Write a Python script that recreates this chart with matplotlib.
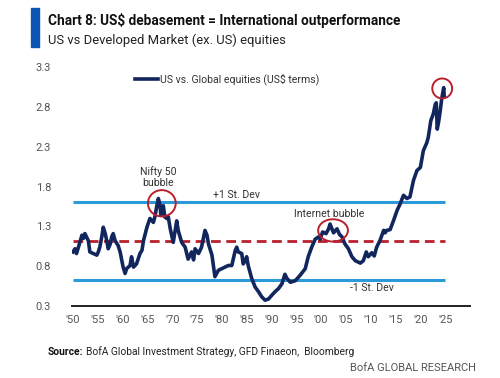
import matplotlib
matplotlib.use("Agg")
import matplotlib.pyplot as plt
from matplotlib import font_manager
from matplotlib.patches import Ellipse, Rectangle

# US vs Global equities relative performance
YEARS = [
    1950.0, 1950.4, 1950.7, 1951.1, 1951.8, 1952.1, 1952.4, 1953.1, 1953.4, 1954.1,
    1954.8, 1955.1, 1955.4, 1955.8, 1956.1, 1956.5, 1956.8, 1957.1, 1957.5, 1957.8,
    1958.1, 1958.5, 1959.1, 1959.5, 1960.1, 1960.5, 1960.8, 1961.5, 1961.8, 1962.2,
    1962.8, 1963.5, 1963.9, 1964.2, 1964.9, 1965.5, 1966.2, 1966.5, 1966.9, 1967.2,
    1967.5, 1967.7, 1968.2, 1968.5, 1968.9, 1969.2, 1969.6, 1970.2, 1970.9, 1971.2,
    1971.9, 1972.6, 1973.2, 1973.9, 1974.3, 1974.6, 1975.3, 1975.9, 1976.6, 1977.0,
    1977.3, 1978.0, 1978.6, 1979.3, 1980.3, 1981.3, 1982.0, 1982.7, 1983.0, 1983.3,
    1984.0, 1984.3, 1984.7, 1985.0, 1985.3, 1986.0, 1986.7, 1987.4, 1988.0, 1988.7,
    1989.4, 1990.1, 1990.7, 1991.4, 1992.1, 1992.7, 1993.1, 1993.8, 1994.8, 1995.8,
    1996.8, 1997.4, 1998.1, 1998.8, 1999.5, 1999.8, 2000.3, 2001.0, 2001.5, 2001.8,
    2002.5, 2003.2, 2003.7, 2004.2, 2004.8, 2005.5, 2006.2, 2006.9, 2007.9, 2008.5,
    2009.1, 2009.5, 2010.2, 2010.7, 2011.2, 2011.9, 2012.6, 2012.9, 2013.2, 2013.9,
    2014.6, 2015.3, 2015.9, 2016.6, 2017.3, 2017.9, 2018.6, 2019.3, 2020.0, 2020.6,
    2021.3, 2021.6, 2022.1, 2022.6, 2023.0, 2023.2, 2023.4, 2023.7, 2024.0, 2024.3,
    2024.7, 2024.8,
]
RATIO = [
    0.98, 1.02, 0.96, 1.04, 1.19, 1.15, 1.21, 1.12, 0.98, 0.96,
    0.94, 0.98, 1.04, 1.17, 1.29, 1.21, 1.12, 1.02, 1.08, 1.17,
    1.21, 1.12, 1.06, 0.98, 0.79, 0.71, 0.77, 0.81, 0.92, 0.79,
    0.83, 0.96, 1.00, 1.12, 1.29, 1.40, 1.35, 1.42, 1.56, 1.65,
    1.58, 1.44, 1.56, 1.42, 1.40, 1.42, 1.27, 1.10, 1.37, 1.25,
    1.10, 1.04, 0.89, 0.98, 0.88, 1.02, 0.96, 1.04, 1.25, 1.19,
    1.08, 0.94, 0.67, 0.75, 0.78, 0.81, 0.81, 1.00, 1.04, 0.98,
    0.96, 0.83, 0.87, 0.92, 0.81, 0.65, 0.54, 0.48, 0.42, 0.375,
    0.39, 0.44, 0.48, 0.52, 0.58, 0.70, 0.65, 0.60, 0.62, 0.69,
    0.77, 0.92, 1.04, 1.14, 1.17, 1.14, 1.23, 1.21, 1.27, 1.33,
    1.22, 1.27, 1.20, 1.17, 1.08, 1.02, 0.92, 0.87, 0.84, 0.87,
    0.98, 0.92, 0.97, 0.93, 1.04, 1.13, 1.25, 1.22, 1.25, 1.26,
    1.375, 1.50, 1.58, 1.69, 1.65, 1.67, 1.875, 2.00, 2.04, 2.25,
    2.35, 2.42, 2.625, 2.71, 2.83, 2.85, 2.52, 2.62, 2.75, 2.90,
    3.04, 2.94,
]

MEAN = 1.12
PLUS_1SD = 1.60
MINUS_1SD = 0.625
BAND_START, BAND_END = 1950, 2025

Y_TICKS = [0.3, 0.8, 1.3, 1.8, 2.3, 2.8, 3.3]
X_TICKS = list(range(1950, 2030, 5))
X_LABELS = ["'%02d" % (y % 100) for y in X_TICKS]

# (centre year, centre value, width in years, height in ratio units)
CIRCLES = [
    (1967.9, 1.59, 5.6, 0.33),
    (2002.4, 1.25, 6.0, 0.28),
    (2024.4, 3.03, 4.0, 0.25),
]

NAVY = "#12265e"
LIGHT_BLUE = "#2a9bd8"
RED = "#b8202c"
GREY = "#555555"
BOFA_BLUE = "#0b56b3"

installed = {f.name for f in font_manager.fontManager.ttflist}
FONT = "Liberation Sans Narrow" if "Liberation Sans Narrow" in installed else "Roboto"
plt.rcParams["font.family"] = [FONT, "DejaVu Sans"]

fig = plt.figure(figsize=(5.0, 3.78), dpi=100)
ax = fig.add_axes([0.144, 0.19, 0.796, 0.633])

ax.hlines([PLUS_1SD, MINUS_1SD], BAND_START, BAND_END, color=LIGHT_BLUE, lw=2.2, zorder=2)
ax.hlines(MEAN, BAND_START, BAND_END, color=RED, lw=2.0, linestyles=(0, (3.5, 2)), zorder=2)
ax.plot(YEARS, RATIO, color=NAVY, lw=2.6, zorder=3)

for cx, cy, w, h in CIRCLES:
    ax.add_patch(Ellipse((cx, cy), w, h, fill=False, ec=RED, lw=1.4, zorder=4))

ax.set_xlim(1949.8, 2030)
ax.set_ylim(0.3, 3.3)
ax.set_yticks(Y_TICKS)
ax.set_yticklabels([f"{v:.1f}" for v in Y_TICKS])
ax.set_xticks(X_TICKS)
ax.set_xticklabels(X_LABELS)
ax.tick_params(length=0, labelsize=8, labelcolor=GREY, pad=6)
ax.tick_params(axis="y", pad=15)
for side in ("top", "right", "left"):
    ax.spines[side].set_visible(False)
ax.spines["bottom"].set_color("#222222")
ax.spines["bottom"].set_linewidth(1.4)
ax.set_facecolor("none")

# legend
ax.plot([1962.5, 1967.2], [3.15, 3.15], color=NAVY, lw=2.6, clip_on=False)
ax.text(1967.6, 3.15, "US vs. Global equities (US$ terms)", fontsize=7.6,
        color="#333333", va="center")

# annotations
ax.text(1967.1, 1.92, "Nifty 50\nbubble", fontsize=7.6, color="#333333",
        ha="center", va="center", linespacing=1.15)
ax.text(1978.2, 1.70, "+1 St. Dev", fontsize=7.6, color="#333333", va="center")
ax.text(2001.7, 1.45, "Internet bubble", fontsize=7.6, color="#333333",
        ha="center", va="center")
ax.text(2005.8, 0.525, "-1 St. Dev", fontsize=7.6, color="#333333", va="center")

# header
fig.add_artist(Rectangle((31 / 500, 1 - 47 / 378), 8 / 500, 39 / 378,
                         transform=fig.transFigure, color=BOFA_BLUE))
fig.text(48 / 500, 1 - 21 / 378, "Chart 8: US\\$ debasement = International outperformance",
         fontsize=9.8, fontweight="bold", color="#111111", va="center")
fig.text(48 / 500, 1 - 40 / 378, "US vs Developed Market (ex. US) equities",
         fontsize=9.4, color="#222222", va="center")

# footer
src = fig.text(48 / 500, 1 - 352 / 378, "Source:", fontsize=7.4, fontweight="bold",
               color="#111111", va="center")
fig.canvas.draw()
bb = src.get_window_extent().transformed(fig.transFigure.inverted())
fig.text(bb.x1 + 0.004, 1 - 352 / 378,
         "BofA Global Investment Strategy, GFD Finaeon,  Bloomberg",
         fontsize=7.4, color="#222222", va="center")
fig.text(476 / 500, 1 - 368 / 378, "BofA GLOBAL RESEARCH", fontsize=8,
         color=GREY, ha="right", va="center")

fig.savefig("out.png", dpi=100)
